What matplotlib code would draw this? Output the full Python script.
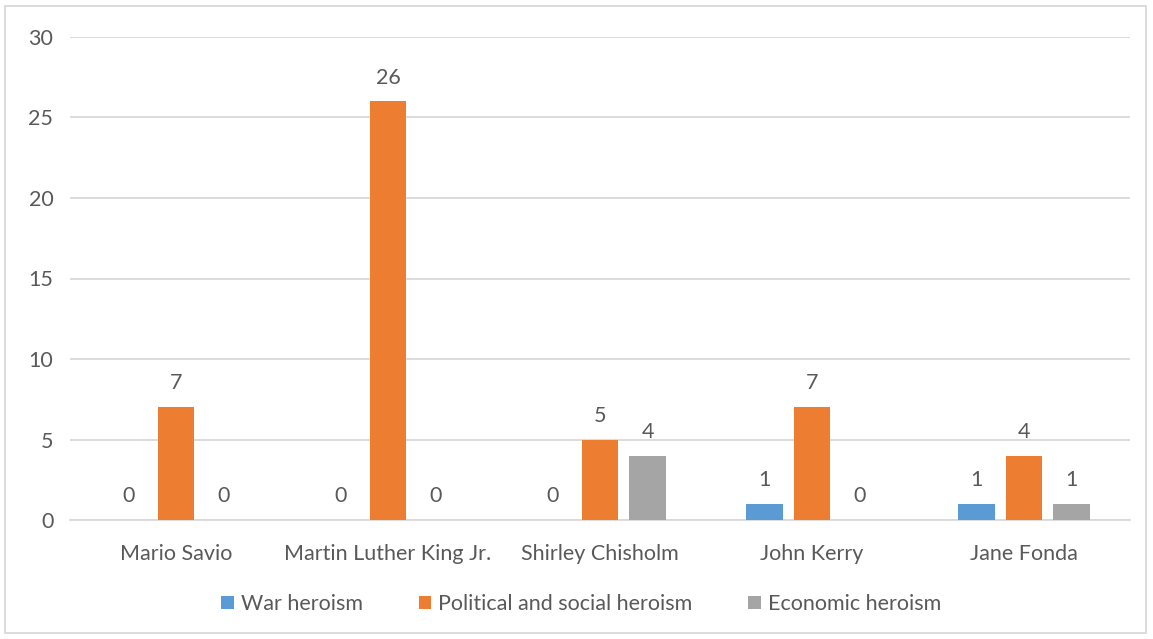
import matplotlib.pyplot as plt
import numpy as np
from matplotlib.patches import Rectangle

people = ["Mario Savio", "Martin Luther King Jr.", "Shirley Chisholm",
          "John Kerry", "Jane Fonda"]
series = ["War heroism", "Political and social heroism", "Economic heroism"]
war = [0, 0, 0, 1, 1]
political = [7, 26, 5, 7, 4]
economic = [0, 0, 4, 0, 1]
colors = ["#5B9BD5", "#ED7D31", "#A5A5A5"]

TEXT = "#595959"
GRID = "#D9D9D9"
FS = 15.5

plt.rcParams["font.family"] = ["Lato", "DejaVu Sans"]

fig = plt.figure(figsize=(11.53, 6.39), dpi=100)
ax = fig.add_axes([70 / 1153, 1 - 520 / 639, 1060 / 1153, 483 / 639])

x = np.arange(len(people))
width = 0.174
step = 0.225
for i, (vals, col) in enumerate(zip([war, political, economic], colors)):
    pos = x + (i - 1) * step
    ax.bar(pos, vals, width, color=col, label=series[i], zorder=3)
    for xp, v in zip(pos, vals):
        ax.annotate(str(v), (xp, v), xytext=(0, 10), textcoords="offset points",
                    ha="center", va="bottom", fontsize=FS, color=TEXT)

ax.set_xlim(-0.5, len(people) - 0.5)
ax.set_ylim(0, 30)
ax.set_yticks(range(0, 31, 5))
ax.set_xticks(x)
ax.set_xticklabels(people)
ax.tick_params(axis="both", length=0, labelsize=FS, colors=TEXT)
ax.tick_params(axis="y", pad=12)
ax.tick_params(axis="x", pad=17)
ax.grid(axis="y", color=GRID, linewidth=1.3, zorder=0)
for s in ["top", "right", "left"]:
    ax.spines[s].set_visible(False)
ax.spines["bottom"].set_color(GRID)
ax.spines["bottom"].set_linewidth(1.3)

fig.legend(loc="center", bbox_to_anchor=(581 / 1153, 1 - 604 / 639), ncol=3,
           frameon=False, fontsize=FS, labelcolor=TEXT, handlelength=0.6,
           handleheight=0.6, handletextpad=0.3, columnspacing=2.6)

# chart border
fig.patches.append(Rectangle((5 / 1153, 6 / 639), 1141 / 1153, 627 / 639,
                             transform=fig.transFigure, fill=False,
                             edgecolor=GRID, linewidth=1.3))

fig.savefig("out.png", dpi=100)
